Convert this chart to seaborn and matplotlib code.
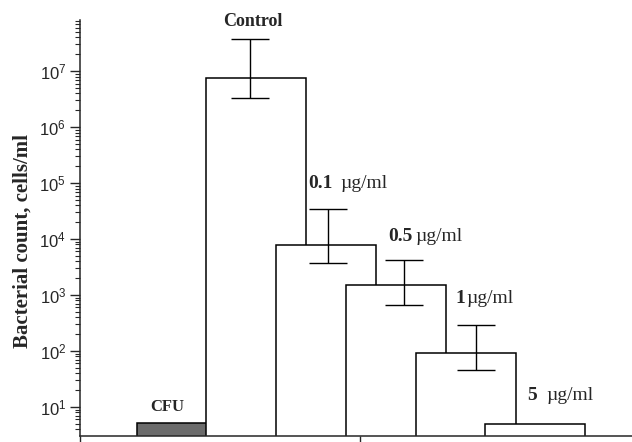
import numpy as np
import matplotlib.pyplot as plt
import seaborn as sns
import pandas as pd

# bars (log scale values)
groups = ['CFU', 'Control', '0.1', '0.5', '1', '5']
counts = [5.1, 7.7e6, 7.7e3, 1.53e3, 93, 4.9]
bar_x = [1.07, 1.76, 2.46, 3.16, 3.86, 4.55]

# error bars (asymmetric, only on the middle four bars)
err_x = [1.70, 2.48, 3.24, 3.96]
err_mid = [7.7e6, 7.7e3, 1.53e3, 93]
err_hi = [3.7e7, 3.4e4, 4.3e3, 291]
err_lo = [3.3e6, 3.8e3, 660, 46]

# dose labels
dose_labels = ['0.1', '0.5', '1', '5']
dose_unit = 'µg/ml'
dose_x = [2.28, 3.08, 3.75, 4.47]
dose_y = [1.0e5, 1.12e4, 850, 16]
dose_gap = [5.5, 2.0, 1.2, 7.0]

# y ticks
y_major = [1e1, 1e2, 1e3, 1e4, 1e5, 1e6, 1e7]

sns.set_style('ticks')
plt.rcParams['font.family'] = ['Liberation Sans', 'DejaVu Sans']
plt.rcParams['mathtext.fontset'] = 'custom'
plt.rcParams['mathtext.rm'] = 'Liberation Sans'
plt.rcParams['mathtext.it'] = 'Liberation Sans'
plt.rcParams['axes.linewidth'] = 1.1
serif = ['Liberation Serif', 'DejaVu Serif']

fig = plt.figure(figsize=(6.32, 4.42), dpi=100)
ax = fig.add_axes([80 / 632, 1 - 435.7 / 442, 552 / 632, 415.7 / 442])
ax.set_yscale('log')

df = pd.DataFrame({'group': groups, 'x': bar_x, 'count': counts})
step = np.diff(bar_x).min()
sns.barplot(data=df, x='x', y='count', native_scale=True, width=1.0 / step,
            color='white', saturation=1, edgecolor='black', linewidth=1.1,
            errorbar=None, ax=ax)
ax.patches[0].set_facecolor('#6b6b6b')

mid = np.array(err_mid)
yerr = [mid - np.array(err_lo), np.array(err_hi) - mid]
ax.errorbar(err_x, err_mid, yerr=yerr, fmt='none', ecolor='black',
            elinewidth=1.0, capsize=13.5, capthick=1.0, zorder=3)

ax.set_xlim(0, 5.52)
ax.set_ylim(3.07, 8.2e7)
sns.despine(ax=ax)

ax.yaxis.set_major_locator(plt.FixedLocator(y_major))
ax.yaxis.set_major_formatter(plt.matplotlib.ticker.LogFormatterSciNotation())
ax.yaxis.set_minor_locator(plt.matplotlib.ticker.LogLocator(base=10, subs=np.arange(2, 10), numticks=20))
ax.yaxis.set_minor_formatter(plt.NullFormatter())
ax.tick_params(axis='y', which='major', length=7, width=1.0, labelsize=12, pad=3)
ax.tick_params(axis='y', which='minor', length=3.6, width=0.8)
ax.set_xticks([0, 2.8])
ax.set_xticklabels([])
ax.tick_params(axis='x', length=4.5, width=1.0)

ax.set_xlabel('')
ax.set_ylabel('Bacterial count, cells/ml', family=serif, weight='bold', fontsize=15)
ax.yaxis.set_label_coords(-0.085, 0.468)

ax.text(1.73, 7.8e7, 'Control', ha='center', va='center', family=serif,
        weight='bold', fontsize=13)
ax.text(0.87, 10.2, 'CFU', ha='center', va='center', family=serif,
        weight='bold', fontsize=12)
for lab, x, y, gap in zip(dose_labels, dose_x, dose_y, dose_gap):
    t = ax.text(x, y, lab, ha='left', va='center', family=serif,
                weight='bold', fontsize=14)
    ax.annotate(dose_unit, xy=(1, 0.5), xycoords=t, xytext=(gap, 0),
                textcoords='offset points', ha='left', va='center',
                family=serif, fontsize=14)

fig.savefig('out.png', dpi=100)
